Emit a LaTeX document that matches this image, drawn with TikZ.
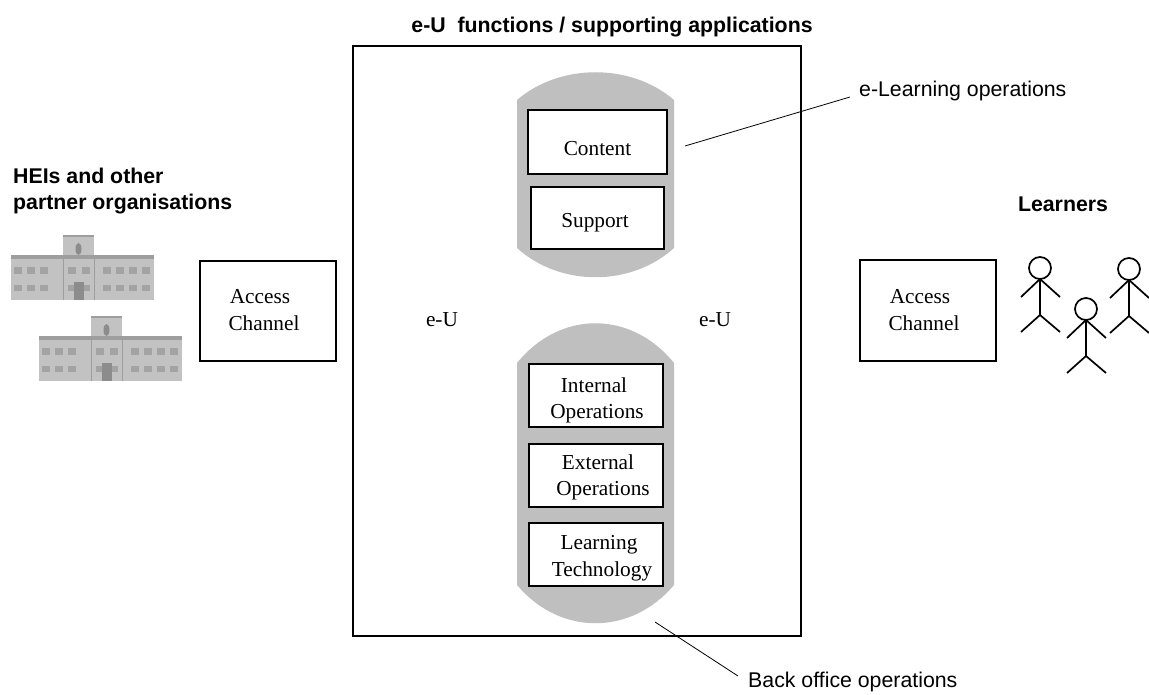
\documentclass[tikz,border=0pt]{standalone}
\usepackage{fontspec}
\setmainfont{Liberation Serif}
\setsansfont{Liberation Sans}
\definecolor{blobgrey}{gray}{0.75}
\definecolor{wallgrey}{gray}{0.76}
\definecolor{roofgrey}{gray}{0.62}
\definecolor{windowgrey}{gray}{0.55}
\newcommand{\nudged}[3]{\raisebox{#2}[\height][\depth]{\hspace*{#1}#3}}
\tikzset{
  box/.style={draw, fill=white, line width=1.4pt, align=center, inner sep=0pt, font=\fontsize{21.3}{27}\selectfont},
  heading/.style={align=left, inner sep=0pt, font=\sffamily\bfseries\fontsize{21.3}{26}\selectfont},
  label/.style={inner sep=0pt, font=\sffamily\fontsize{21.3}{26}\selectfont},
  plain/.style={inner sep=0pt, font=\fontsize{21.3}{26}\selectfont},
  building/.pic={
    \fill[wallgrey] (0,20) rectangle (143,65);
    \fill[wallgrey] (52,0) rectangle (83,30);
    \fill[roofgrey] (0,20) rectangle (143,24);
    \fill[roofgrey] (52,0) rectangle (83,2);
    \draw[roofgrey, line width=0.8pt] (52,20) -- (52,65) (83,20) -- (83,65);
    \fill[windowgrey] (67.5,14) ellipse (3 and 6);
    \foreach \wx in {3,16,29,57,71,92,105,118,131} {
      \fill[windowgrey!80] (\wx,32) rectangle ++(8,7);
      \fill[windowgrey!80] (\wx,50) rectangle ++(8,6);
    }
    \fill[windowgrey] (63,47) rectangle (73,65);
  },
  learner/.pic={
    \draw[line width=1.7pt] (0,0) circle (11);
    \draw[line width=1.7pt] (0,11) -- (0,47) (-19,29) -- (0,11) -- (20,29)
      (-19,64) -- (0,47) -- (20,64);
  }
}
\begin{document}
\begin{tikzpicture}[x=1pt,y=-1pt]
  \useasboundingbox (0,0) rectangle (1149,695);
  % grey backgrounds
  \node (eu) [draw, line width=1.4pt, minimum width=448pt, minimum height=590pt] at (577,341) {};
  \fill[blobgrey] (517,100) .. controls (560,63) and (631,63) .. (674,100) -- (674,248)
    .. controls (631,287) and (560,287) .. (517,248) -- cycle;
  \fill[blobgrey] (517,363) .. controls (560,310) and (631,310) .. (674,363) -- (674,585)
    .. controls (631,636) and (560,636) .. (517,585) -- cycle;
  \node (content) [box, minimum width=139pt, minimum height=64pt] at (597.5,142) {\nudged{0pt}{-6.5pt}{Content}};
  \node (support) [box, minimum width=133pt, minimum height=62pt] at (597.5,218) {\nudged{-5pt}{-4.5pt}{Support}};
  \node (internal) [box, minimum width=134pt, minimum height=63pt] at (596,395.5)
    {\nudged{-4pt}{-5.5pt}{Internal}\\\nudged{2pt}{-4.5pt}{Operations}};
  \node (external) [box, minimum width=134pt, minimum height=63pt] at (596,475.5)
    {\nudged{4pt}{-2.5pt}{External}\\\nudged{14pt}{-1.5pt}{Operations}};
  \node (learning) [box, minimum width=134pt, minimum height=63pt] at (596,554.5)
    {\nudged{6pt}{-3.5pt}{Learning}\\\nudged{12pt}{-3.5pt}{Technology}};
  \node (accessl) [box, minimum width=136pt, minimum height=100pt] at (268,311)
    {\nudged{-16pt}{1pt}{Access}\\\nudged{-8pt}{1pt}{Channel}};
  \node (accessr) [box, minimum width=136pt, minimum height=101pt] at (928,310.5)
    {\nudged{-16pt}{0pt}{Access}\\\nudged{-8pt}{0pt}{Channel}};
  \node (eul) [plain] at (442,320) {e-U};
  \node (eur) [plain] at (715,320) {e-U};
  \node (title) [heading] at (612,27) {e-U\ \ functions / supporting applications};
  \node (hei) [heading, anchor=north west] at (13,168) {HEIs and other\\partner organisations};
  \node (learners) [heading] at (1063,204) {Learners};
  \node (elearning) [label, anchor=west] at (859,91) {e-Learning operations};
  \node (backoffice) [label, anchor=west] at (748,682) {Back office operations};
  \coordinate (elearningtip) at (685,146);
  \coordinate (backofficetip) at (655,622);
  \draw[line width=0.8pt] (elearningtip) -- ([xshift=-9pt,yshift=-6pt]elearning.west);
  \draw[line width=0.8pt] (backofficetip) -- ([xshift=-10pt,yshift=6pt]backoffice.west);
  \pic at (11,235) {building};
  \pic at (39,316) {building};
  \pic at (1040,268) {learner};
  \pic at (1086,309) {learner};
  \pic at (1129,269) {learner};
\end{tikzpicture}
\end{document}
